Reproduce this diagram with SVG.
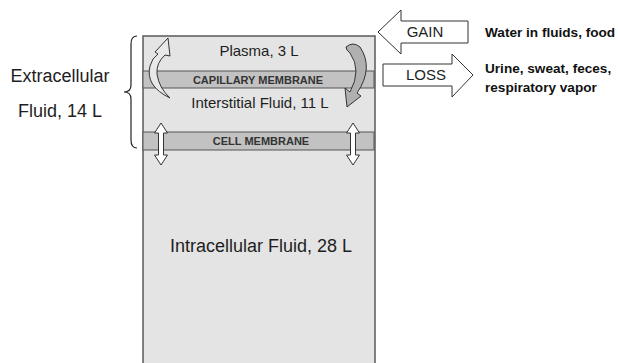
<svg xmlns="http://www.w3.org/2000/svg" width="618" height="363" viewBox="0 0 618 363">
<style>
.t{font-family:"Liberation Sans",Arial,sans-serif;fill:#1e1e1e}
.b{font-family:"Liberation Sans",Arial,sans-serif;font-weight:bold;fill:#111}
.m{font-family:"Liberation Sans",Arial,sans-serif;font-weight:bold;fill:#333;font-size:11px}
.band{fill:#c2c2c2;stroke:#555;stroke-width:1}
.ol{stroke:#333;stroke-width:1;stroke-linejoin:round}
</style>
<rect width="618" height="363" fill="#fff"/>
<g id="cell">
<rect x="143" y="36" width="232" height="335" fill="#e4e4e4" stroke="#5a5a5a" stroke-width="1.5"/>
</g>
<g id="capillary-membrane">
<rect class="band" x="143" y="71" width="231" height="17"/>
<text class="m" x="258" y="84" text-anchor="middle">CAPILLARY MEMBRANE</text>
</g>
<g id="cell-membrane">
<rect class="band" x="143" y="132" width="231" height="18"/>
<text class="m" x="261" y="145" font-size="11.6" text-anchor="middle">CELL MEMBRANE</text>
</g>
<g id="plasma"><text class="t" x="259" y="56" font-size="15" text-anchor="middle">Plasma, 3 L</text></g>
<g id="interstitial"><text class="t" x="260" y="108" font-size="15" text-anchor="middle">Interstitial Fluid, 11 L</text></g>
<g id="intracellular"><text class="t" x="261" y="252" font-size="18" text-anchor="middle">Intracellular Fluid, 28 L</text></g>
<g id="extracellular">
<text class="t" x="60" y="82" font-size="18" text-anchor="middle">Extracellular</text>
<text class="t" x="60" y="117" font-size="18" text-anchor="middle">Fluid, 14 L</text>
<path d="M137,36 Q131,36 131,44 L131,85 Q131,92 124,92 Q131,92 131,99 L131,140 Q131,148 137,148" fill="none" stroke="#222" stroke-width="1.2"/>
</g>
<g id="gain">
<polygon class="ol" points="378,32 401,10 401,21 468,21 468,43 401,43 401,54" fill="#fff"/>
<text class="t" x="425" y="37" font-size="15" text-anchor="middle">GAIN</text>
<text class="b" x="485" y="37" font-size="13.6">Water in fluids, food</text>
</g>
<g id="loss">
<polygon class="ol" points="383,64 452,64 452,54 473,75 452,97 452,86 383,86" fill="#fff"/>
<text class="t" x="426" y="80" font-size="15" text-anchor="middle">LOSS</text>
<text class="b" x="485" y="73" font-size="13.6">Urine, sweat, feces,</text>
<text class="b" x="485" y="92" font-size="13.6">respiratory vapor</text>
</g>
<g id="connectors">
<path class="ol" d="M170,98 Q145,86 150,66 Q152,58 158,54 L155,52 L168,38 L170,56 L165,55 Q156,63 157,74 Q159,88 170,98 Z" fill="#e8e8e8"/>
<path class="ol" d="M346,47 Q353,41 360,47 Q374,68 357,93 L361,96 L347,107 L345,88 L350,92 Q362,70 350,53 Q346,50 346,47 Z" fill="#b0b0b0"/>
<polygon class="ol" points="161,123 167.5,133 163.5,133 163.5,155 167.5,155 161,165 154.5,155 158.5,155 158.5,133 154.5,133" fill="#fff"/>
<polygon class="ol" points="353,123 359.5,133 355.5,133 355.5,155 359.5,155 353,165 346.5,155 350.5,155 350.5,133 346.5,133" fill="#fff"/>
</g>
</svg>
